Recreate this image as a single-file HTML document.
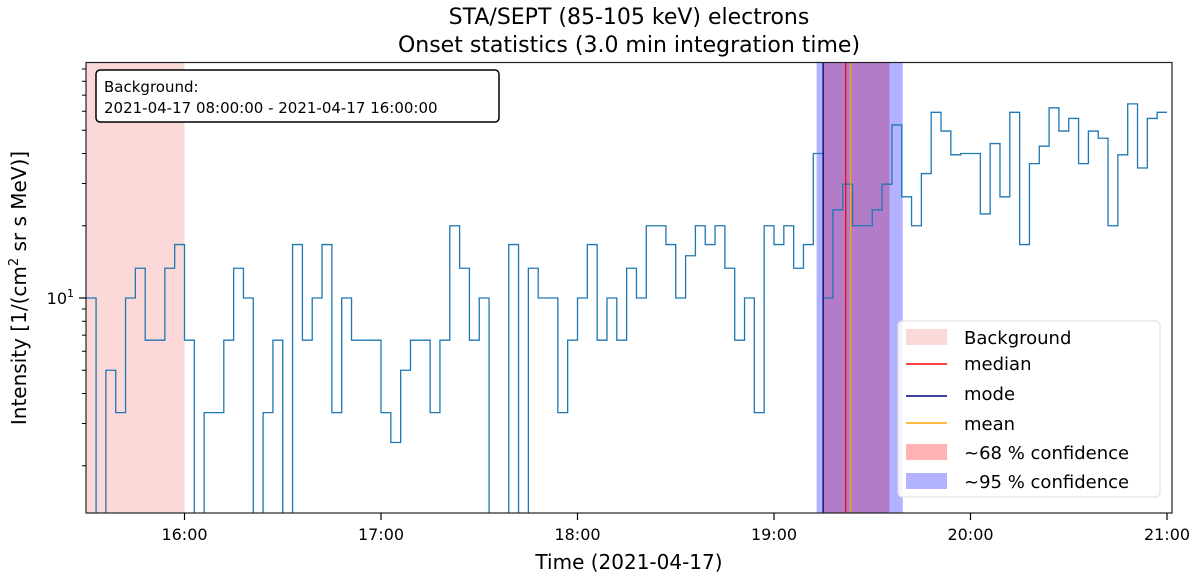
<!DOCTYPE html>
<html><head><meta charset="utf-8"><style>
html,body{margin:0;padding:0;background:#fff;}
svg{display:block;font-family:"DejaVu Sans","Liberation Sans",sans-serif;}
</style></head><body>
<svg id="chart" width="1200" height="577" viewBox="0 0 1200 577" xmlns="http://www.w3.org/2000/svg">
<defs><clipPath id="clip"><rect x="86" y="62.5" width="1086" height="450.5"/></clipPath></defs>
<text x="629" y="24" font-size="22" text-anchor="middle">STA/SEPT (85-105 keV) electrons</text>
<text x="629" y="52" font-size="22" text-anchor="middle">Onset statistics (3.0 min integration time)</text>
<g id="bands" clip-path="url(#clip)"></g>
<g id="series" clip-path="url(#clip)"></g>
<g id="vlines" clip-path="url(#clip)"></g>
<rect x="86" y="62.5" width="1086" height="450.5" fill="none" stroke="#222" stroke-width="1.2"/>
<g id="xaxis"></g>
<g id="yaxis"></g>
<text x="629" y="569" font-size="20" text-anchor="middle">Time (2021-04-17)</text>
<text transform="translate(26,288) rotate(-90)" font-size="20" text-anchor="middle">Intensity [1/(cm<tspan dy="-8" font-size="13">2</tspan><tspan dy="8"> sr s MeV)]</tspan></text>
<g>
<rect x="96" y="70" width="403" height="52" rx="4" fill="#fff" stroke="#000" stroke-width="1.5"/>
<text x="104" y="92" font-size="15">Background:</text>
<text x="104" y="113" font-size="15">2021-04-17 08:00:00 - 2021-04-17 16:00:00</text>
</g>
<g>
<rect x="898" y="321" width="262" height="176" rx="4" fill="#fff" fill-opacity="0.85" stroke="#ddd"/>
<rect x="906" y="329" width="41" height="16" fill="rgba(230,0,0,0.15)"/><text x="964" y="344" font-size="18">Background</text>
<line x1="906" y1="364" x2="947" y2="364" stroke="red" stroke-width="1.5"/><text x="964" y="370" font-size="18">median</text>
<line x1="906" y1="396" x2="947" y2="396" stroke="navy" stroke-width="1.5"/><text x="964" y="400" font-size="18">mode</text>
<line x1="906" y1="423" x2="947" y2="423" stroke="orange" stroke-width="1.5"/><text x="964" y="430" font-size="18">mean</text>
<rect x="906" y="444" width="41" height="16" fill="rgba(255,0,0,0.3)"/><text x="964" y="459" font-size="18">~68 % confidence</text>
<rect x="906" y="473" width="41" height="16" fill="rgba(0,0,255,0.3)"/><text x="964" y="488" font-size="18">~95 % confidence</text>
</g>
</svg>
<script>
const startHour = 15.5;
const binMinutes = 3;
const intensities = [10,0,5,3.33,10,13.3,6.67,6.67,13.3,16.7,6.67,0,3.33,3.33,6.67,13.3,10,0,3.33,6.67,
0,16.7,6.67,10,16.7,3.33,10,6.67,6.67,6.67,3.33,2.5,5,6.67,6.67,3.33,6.67,20,13.3,6.67,
10,0,0,16.7,0,13.3,10,10,3.33,6.67,10,16.7,6.67,10,6.67,13.3,10,20,20,16.7,
10,15,20,16.7,20,13.3,6.67,10,3.33,20,16.7,20,13.3,16.7,40,10,23.3,29.8,20,20,
23.3,29.8,52.6,26.4,20,33,59.4,49.6,39.5,40,40,22.4,44,26.4,59.4,16.7,36.3,42.9,62,49.6,
56,36.3,49.6,46.3,20,39.5,64.4,34.8,56,59.4];
const xTickHours = [16,17,18,19,20,21];
const xTickLabels = ["16:00","17:00","18:00","19:00","20:00","21:00"];
const yMinorTicks = [2,3,4,5,6,7,8,9,20,30,40,50,60,70,80,90];
const yMajorTicks = [10];
const backgroundRange = [15.5, 16.0];
const conf95 = [19.2167, 19.655];
const conf68 = [19.25, 19.588];
const modeHour = 19.25, medianHour = 19.365, meanHour = 19.39;

const NS="http://www.w3.org/2000/svg";
const X = h => 184.5 + (h-16)*196.5;
const Y = v => v<=0 ? 540 : 298 - 240*Math.log10(v/10);
function mk(tag, attrs, parent){const e=document.createElementNS(NS,tag);for(const k in attrs)e.setAttribute(k,attrs[k]);parent.appendChild(e);return e;}
const bands=document.getElementById('bands');
function band(r,fill,name){const e=mk('rect',{x:X(r[0]),y:62.5,width:X(r[1])-X(r[0]),height:450.5,fill:fill},bands);

}
band(backgroundRange,'rgba(230,0,0,0.15)','background-band');
band(conf68,'rgba(255,0,0,0.3)','confidence-68-band');
band(conf95,'rgba(0,0,255,0.3)','confidence-95-band');
let d='';
intensities.forEach((v,i)=>{const x0=X(startHour+i*binMinutes/60),x1=X(startHour+(i+1)*binMinutes/60),y=Y(v);
d+=(i===0?'M':'L')+x0.toFixed(2)+','+y.toFixed(2)+'L'+x1.toFixed(2)+','+y.toFixed(2);});
const p=mk('path',{d:d,fill:'none',stroke:'#1f77b4','stroke-width':1.3},document.getElementById('series'));


const vl=document.getElementById('vlines');
[[modeHour,'navy','mode-line'],[medianHour,'red','median-line'],[meanHour,'orange','mean-line']].forEach(a=>{
const l=mk('line',{x1:X(a[0]),x2:X(a[0]),y1:62.5,y2:513,stroke:a[1],'stroke-width':1.3},vl);

});
const xa=document.getElementById('xaxis');
xTickHours.forEach((h,i)=>{mk('line',{x1:X(h),x2:X(h),y1:513,y2:520,stroke:'#000','stroke-width':1.2},xa);
const t=mk('text',{x:X(h),y:540,'font-size':16,'text-anchor':'middle'},xa);t.textContent=xTickLabels[i];

});
const ya=document.getElementById('yaxis');
yMinorTicks.forEach(v=>{mk('line',{x1:82,x2:86,y1:Y(v),y2:Y(v),stroke:'#000','stroke-width':1},ya);});
yMajorTicks.forEach(v=>{mk('line',{x1:79,x2:86,y1:Y(v),y2:Y(v),stroke:'#000','stroke-width':1.2},ya);
const t=mk('text',{x:74,y:Y(v)+6,'font-size':16,'text-anchor':'end'},ya);
t.innerHTML='10<tspan dy="-7" font-size="11">1</tspan>';

});
</script>
</body></html>
